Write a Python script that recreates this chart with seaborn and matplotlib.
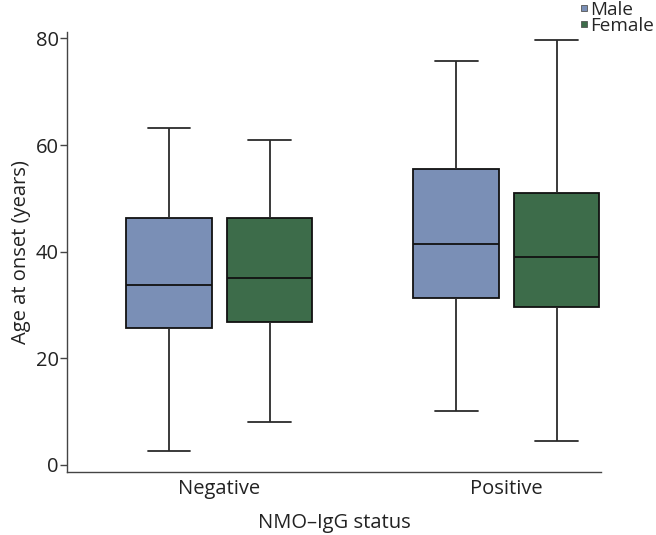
import pandas as pd
import numpy as np
import matplotlib.pyplot as plt
import seaborn as sns

sns.set_theme(style="white")
plt.rcParams["font.family"] = ["Open Sans", "DejaVu Sans"]

# five-number summaries: min, Q1, median, Q3, max
status = ["Negative", "Positive"]
sexes = ["Male", "Female"]
neg_male = [2.7, 25.7, 33.8, 46.3, 63.3]
neg_female = [8.1, 26.9, 35.1, 46.4, 61.0]
pos_male = [10.1, 31.4, 41.4, 55.6, 75.7]
pos_female = [4.5, 29.6, 39.1, 51.0, 79.7]
colors = ["#7a8fb6", "#3d6c4a"]

groups = {
    ("Negative", "Male"): neg_male,
    ("Negative", "Female"): neg_female,
    ("Positive", "Male"): pos_male,
    ("Positive", "Female"): pos_female,
}
rows = []
for (st, sx), vals in groups.items():
    for v in vals:
        rows.append({"status": st, "sex": sx, "age": v})
df = pd.DataFrame(rows)

fs = 14.5
fig = plt.figure(figsize=(6.56, 5.35), dpi=100)
ax = fig.add_axes([0.102, 0.118, 0.814, 0.822])

sns.boxplot(
    data=df, x="status", y="age", hue="sex",
    order=status, hue_order=sexes, palette=colors,
    width=0.70, gap=0.15, whis=(0, 100), saturation=1,
    linewidth=1.3, linecolor="#2b2b2b",
    medianprops={"color": "#111111"},
    boxprops={"edgecolor": "#111111"},
    ax=ax, legend=False,
)

ax.set_ylim(-1.3, 81.2)
ax.set_xlim(-0.531, 1.329)
ax.set_yticks([0, 20, 40, 60, 80])
ax.set_xlabel("NMO\u2013IgG status", fontsize=fs, labelpad=10, color="#222222")
ax.set_ylabel("Age at onset (years)", fontsize=fs, labelpad=3, color="#222222")
ax.tick_params(axis="y", length=5, width=1, color="#444444", labelsize=fs, labelcolor="#222222", pad=1, left=True)
ax.tick_params(axis="x", length=0, labelsize=fs, labelcolor="#222222", pad=5)
for side in ["top", "right"]:
    ax.spines[side].set_visible(False)
for side in ["left", "bottom"]:
    ax.spines[side].set_color("#444444")
    ax.spines[side].set_linewidth(1)

handles = [plt.Line2D([], [], marker="s", linestyle="", markersize=5,
                      markerfacecolor=c, markeredgecolor="#555555", markeredgewidth=0.6)
           for c in colors]
fig.legend(handles, sexes, loc="upper right", bbox_to_anchor=(0.998, 1.0),
           frameon=False, fontsize=13.6, handlelength=0.4, handletextpad=0.1,
           labelspacing=-0.1, borderpad=0.05, borderaxespad=0)

fig.savefig("out.png", dpi=100)
